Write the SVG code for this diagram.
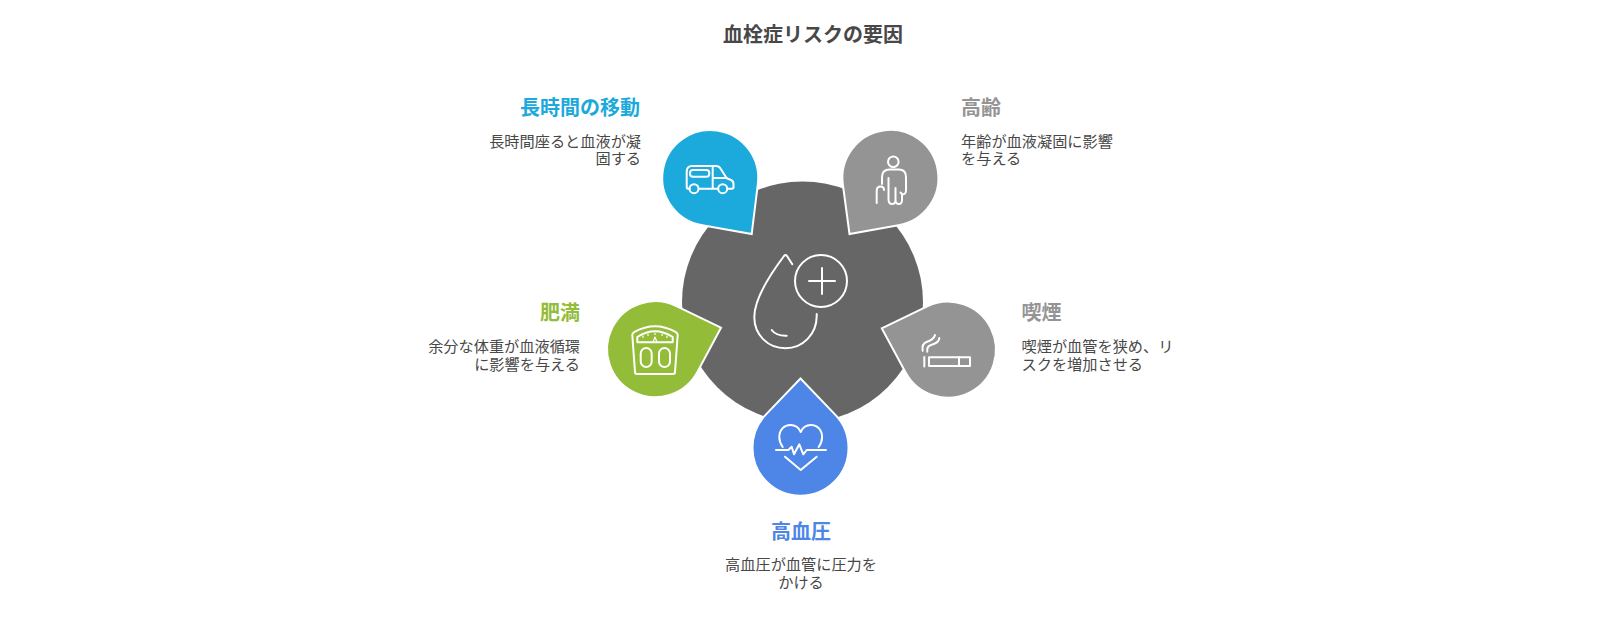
<svg xmlns="http://www.w3.org/2000/svg" width="1600" height="628" viewBox="0 0 1600 628">
<style>
text{font-family:"Noto Sans CJK JP","Noto Sans",sans-serif}
.t{font-size:20px;font-weight:700;fill:#484848;text-anchor:middle}
.h{font-size:20px;font-weight:700}
.d{font-size:15.200px;fill:#484848}
.e{text-anchor:end}.m{text-anchor:middle}
.drop{stroke:#fff;stroke-width:2;stroke-linejoin:miter}
.i{fill:none;stroke:#fff;stroke-width:2;stroke-linecap:round;stroke-linejoin:round}
</style>
<rect width="1600" height="628" fill="#fff"/>
<text class="t" x="813" y="42">血栓症リスクの要因</text>
<g id="center">
<circle cx="802.5" cy="302" r="120.5" fill="#666"/>
<g class="i">
<path d="M792.3 264.3L787 256Q785.7 254 784 256C775 268 754.3 297 754.3 317C754.3 335 768 348.3 785.5 348.3C803 348.3 816.7 334 816.7 316V314"/>
<path d="M771.7 330Q776 336 786.7 335.7"/>
<circle cx="821" cy="281" r="26"/>
<path d="M809 281H835M822 268V294"/>
</g>
</g>
<g id="travel">
<path class="drop" fill="#1CA9DB" d="M751.7 234L757.8 184.3A48 48 0 1 0 702.4 225.3Z"/>
<g class="i">
<path d="M689.5 188.7H688Q686.7 188.7 686.7 187V172Q686.7 166 692 166H716Q719 166 720.5 168.5L726.7 178.3L731 180Q733.5 181 733.5 184V187Q733.5 188.7 732 188.7H727.5M718 188.7H699"/>
<circle cx="694" cy="188.7" r="4.5"/><circle cx="722.7" cy="188.7" r="4.5"/>
<rect x="690" y="170" width="19.300" height="6.700" rx="3"/>
<path d="M712.700 166.500V188M712.700 178H726.700"/>
</g>
<text class="h e" fill="#1CA9DB" x="640" y="115">長時間の移動</text>
<text class="d e" x="641" y="146.500">長時間座ると血液が凝<tspan x="641" dy="17.500">固する</tspan></text>
</g>
<g id="age">
<path class="drop" fill="#949494" d="M849.5 234L842.900 184.800A48 48 0 1 1 898.400 225.200Z"/>
<g class="i">
<circle cx="893.300" cy="161.700" r="5.300"/>
<path d="M882 184V177Q882 169.500 889.500 169.500H899Q906 169.500 906 177V191Q905.500 195 902 194L900.500 192.500M888.500 178V199Q888.500 204 892 204Q895.500 204 895.500 200V188M895.500 200Q895.500 204 899 204Q902 204 902 200V194"/>
<path d="M876.700 203V191Q876.700 186.500 880.500 186.500Q884 186.500 884 190"/>
</g>
<text class="h" fill="#949494" x="961" y="115">高齢</text>
<text class="d" x="961" y="146.500">年齢が血液凝固に影響<tspan x="961" dy="17.500">を与える</tspan></text>
</g>
<g id="obesity">
<path class="drop" fill="#93BC38" d="M721 327.700L697.700 371.400A48 48 0 1 1 676.400 306.200Z"/>
<g class="i">
<path d="M632.300 335Q632.300 333 634.500 331.800Q655 320.500 675.500 331.800Q677.700 333 677.700 335L675 372Q675 374 673 374H637Q635 374 635 372Z"/>
<path d="M637.300 342.300V337Q655 325.500 672.700 337V342.300Z"/>
<rect x="640.700" y="348" width="11" height="19" rx="5.500"/>
<rect x="659" y="348" width="11" height="19" rx="5.500"/>
<path d="M643 336V337.500M648 334V335.500M655 333V334.500M662 334V335.500M667 336V337.500M653.300 341.500L655 337L656.700 341.500" stroke-width="1.200"/>
</g>
<text class="h e" fill="#93BC38" x="580" y="320">肥満</text>
<text class="d e" x="580" y="352">余分な体重が血液循環<tspan x="580" dy="18">に影響を与える</tspan></text>
</g>
<g id="smoking">
<path class="drop" fill="#949494" d="M881.700 328.300L926.700 306.600A48 48 0 1 1 905.500 372.200Z"/>
<g class="i">
<path d="M924.300 357V366.500"/>
<rect x="929" y="357.300" width="41" height="8.700"/>
<path d="M959 357.300V366"/>
<path d="M922.700 350.700Q921.500 344 926.500 342Q934 339.500 935 335"/>
<path d="M927.300 351.700Q926.500 346.500 931 345Q939.500 342.500 939.300 338"/>
</g>
<text class="h" fill="#949494" x="1021.500" y="320">喫煙</text>
<text class="d" x="1021.500" y="352">喫煙が血管を狭め、リ<tspan x="1021.500" dy="18">スクを増加させる</tspan></text>
</g>
<g id="pressure">
<path class="drop" fill="#4D86E6" d="M800.500 378.500L834.700 414.100A48 48 0 1 1 766.300 414.100Z"/>
<g class="i">
<path d="M782.700 447C780.500 444 779.300 441 779.300 437C779.300 430 784 425 790.500 425C795 425 799 428 800.700 432C802.400 428 806.400 425 810.900 425C817.400 425 822.100 430 822.100 437C822.100 441 820.900 444 818.700 447"/>
<path d="M785 456.700L800.700 470L816.700 456.700"/>
<path d="M776 450H788.300L791.700 446.700L794 454.300L799.300 444.300L803.300 454.300L806.700 450H826"/>
</g>
<text class="h m" fill="#4D86E6" x="801" y="539">高血圧</text>
<text class="d m" x="801" y="570">高血圧が血管に圧力を<tspan x="801" dy="18">かける</tspan></text>
</g>
</svg>
